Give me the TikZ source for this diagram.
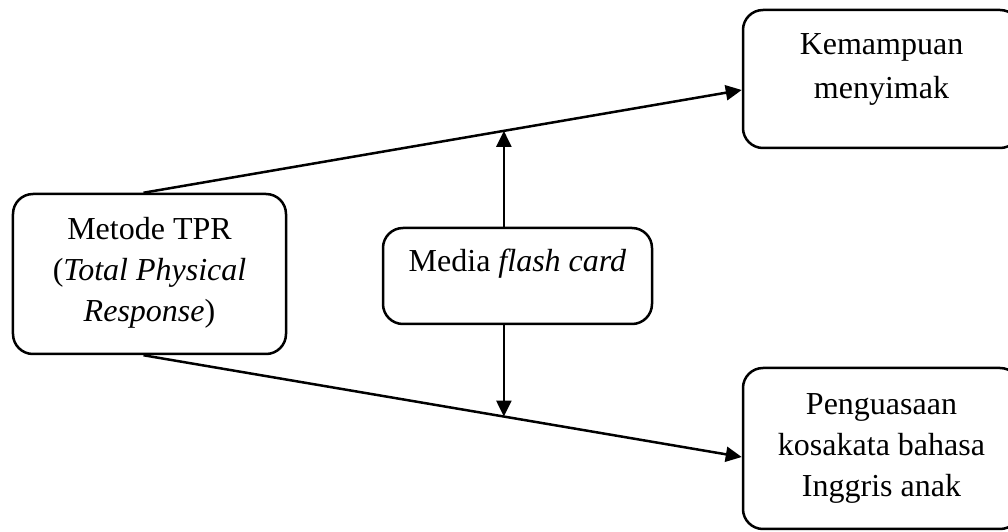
\documentclass[tikz,border=0pt]{standalone}
\usepackage{fontspec}
\setmainfont{Liberation Serif}
\usetikzlibrary{calc,arrows.meta}
\tikzset{
  box/.style={draw, line width=1pt, rounded corners=8pt, inner sep=0pt, align=center,
    font=\fontsize{12.8}{16.4}\selectfont, text depth=3.2pt},
  flow/.style={line width=1pt, -{Triangle[length=6.4pt,width=6pt]}}
}
\begin{document}
\begin{tikzpicture}[x=0.4pt,y=-0.4pt]
    \useasboundingbox (0,0) rectangle (1008,532);
    \clip (0,0) rectangle (1008,532); % Clips the right boxes...

    \node[box, minimum width=109.2pt, minimum height=64pt, text height=41.6pt] (tpr) at (149.5,274)
        {Metode TPR\\(\textit{Total Physical}\\\textit{Response})};
    \node[box, minimum width=107.6pt, minimum height=38.4pt, text height=8.8pt, text depth=12pt] (media) at (517.5,276)
        {Media \textit{flash card}};
    \node[box, minimum width=110.8pt, minimum height=55.2pt, text height=19.2pt,
        font=\fontsize{12.8}{17.6}\selectfont] (simak) at (881.5,79)
        {Kemampuan\\menyimak};
    \node[box, minimum width=110.8pt, minimum height=64.4pt, text height=42pt] (kosa) at (881.5,448.5)
        {Penguasaan\\kosakata bahasa\\Inggris anak};

    \draw[flow] ($(tpr.north)+(-6,0)$) -- coordinate[pos=0.6024] (top) ($(simak.west)+(0,11)$);
    \draw[flow] ($(tpr.south)+(-6,0)$) -- coordinate[pos=0.6024] (bot) ($(kosa.west)+(0,8.5)$);
    \draw[flow] (media.north -| top) -- (top);
    \draw[flow] (media.south -| bot) -- (bot);
  \end{tikzpicture}
\end{document}
